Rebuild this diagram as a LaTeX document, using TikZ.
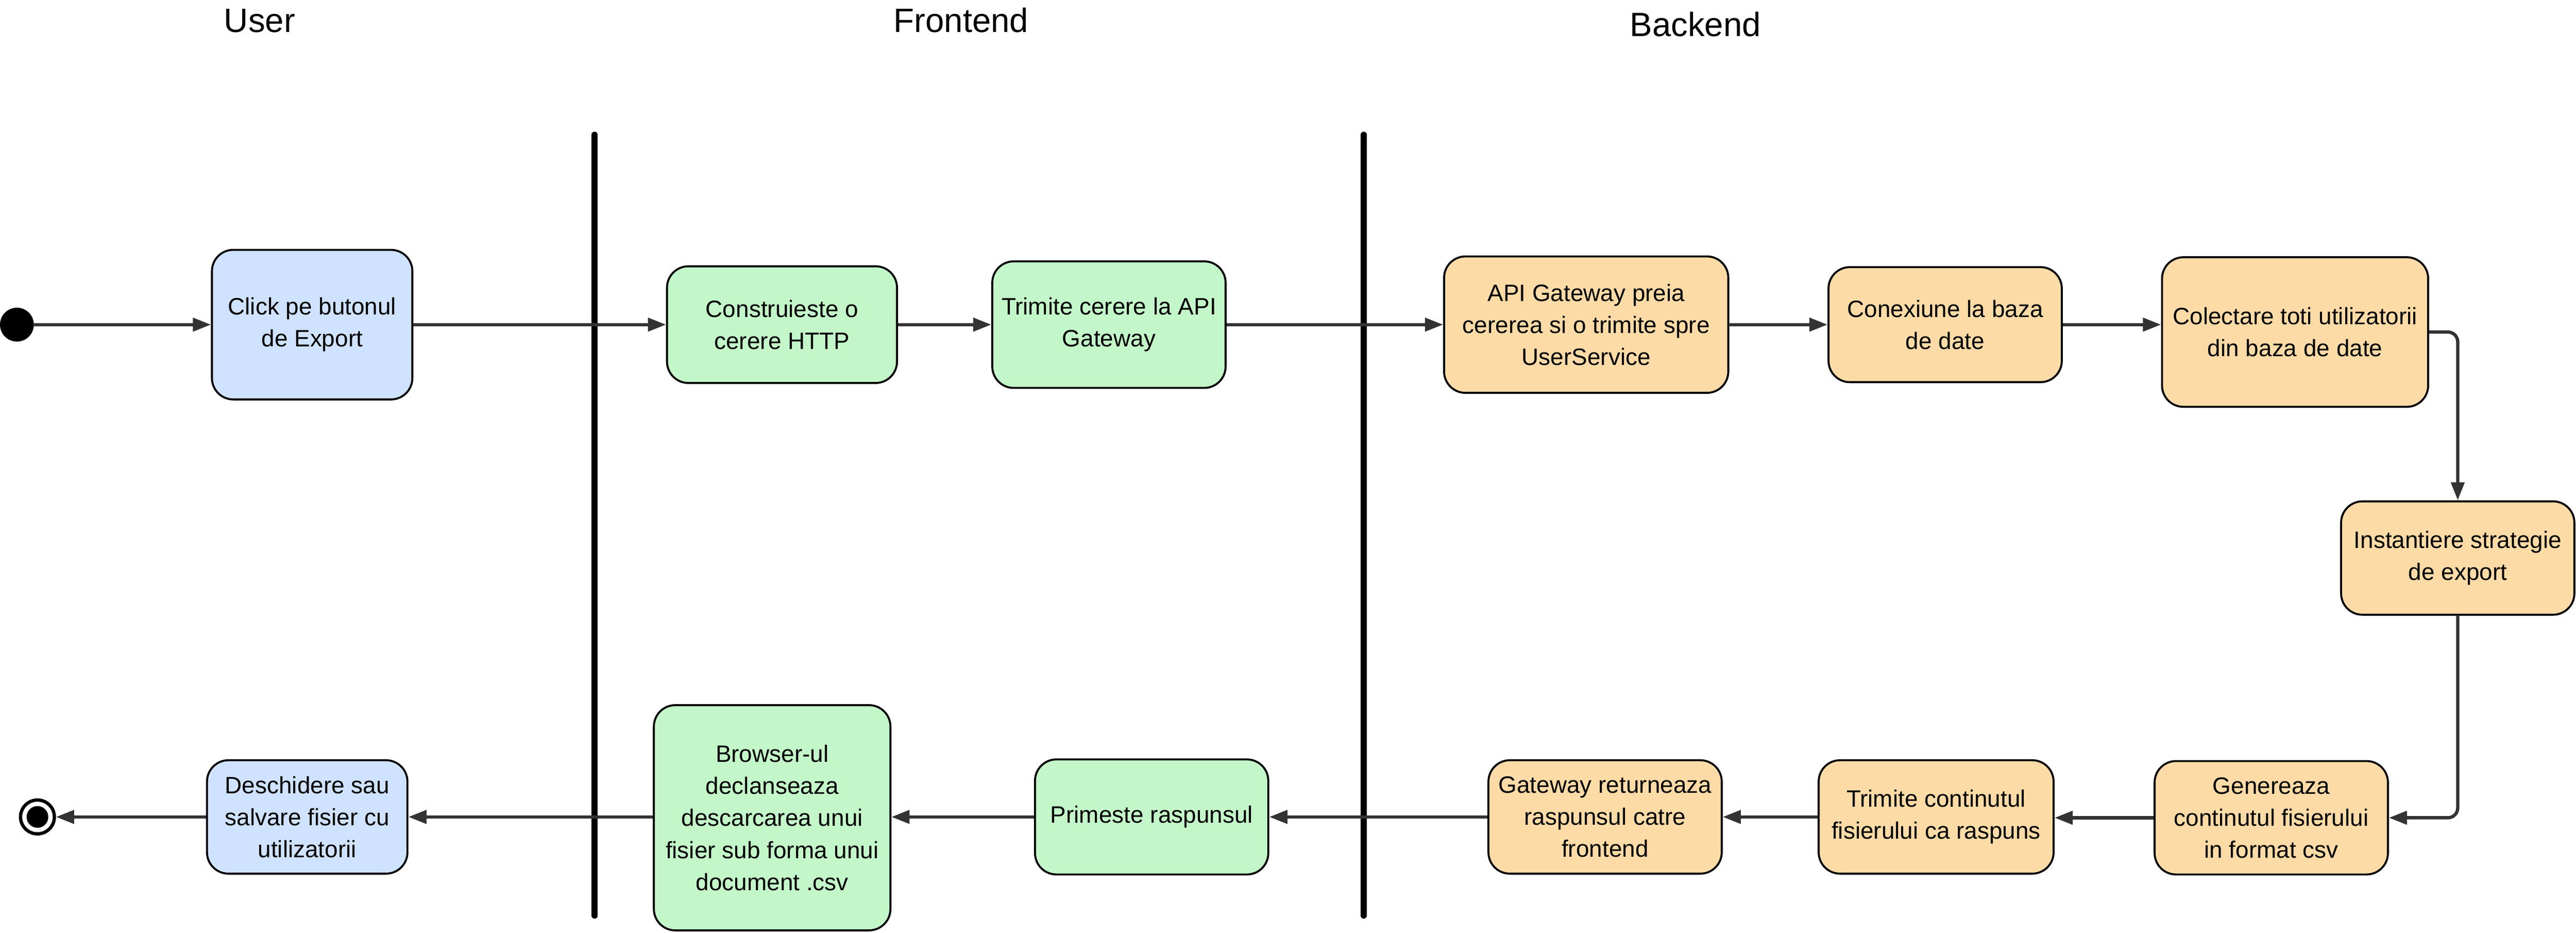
\documentclass[tikz,border=0pt]{standalone}
\usepackage{fontspec}
\setmainfont{Liberation Sans}
\usetikzlibrary{arrows.meta}
\definecolor{bluefill}{RGB}{207,226,255}
\definecolor{greenfill}{RGB}{195,246,200}
\definecolor{orangefill}{RGB}{253,219,166}
\definecolor{conn}{RGB}{51,51,51}
\begin{document}
\begin{tikzpicture}[x=1pt,y=-1pt,
  act/.style={draw=black, line width=1.2pt, rounded corners=13pt, align=center,
    font=\fontsize{14.4pt}{19.5pt}\selectfont, inner sep=0pt},
  ublue/.style={act, fill=bluefill},
  ugreen/.style={act, fill=greenfill},
  uorange/.style={act, fill=orangefill},
  flow/.style={draw=conn, line width=2pt, -{Triangle[length=11pt,width=8pt]}},
  lanebar/.style={draw=black, line width=3.8pt, line cap=round},
  lanetitle/.style={anchor=base, inner sep=0pt, font=\fontsize{20.5pt}{24pt}\selectfont}
]
\useasboundingbox (0,0) rectangle (1568,567.4);

% lane titles
\node[lanetitle] (tuser) at (158,19.5) {User};
\node[lanetitle] (tfront) at (585,19.5) {Frontend};
\node[lanetitle] (tback) at (1032,22.2) {Backend};

% lane separators
\coordinate (b1top) at (362,82);
\coordinate (b1bot) at (362,557);
\coordinate (b2top) at (830,82);
\coordinate (b2bot) at (830,557);
\draw[lanebar] (b1top) -- (b1bot);
\draw[lanebar] (b2top) -- (b2bot);

% start / end
\node[circle, fill=black, minimum size=20.6pt, inner sep=0pt] (start) at (10.3,197.5) {};
\node[circle, draw=black, line width=2pt, fill=white, minimum size=20.6pt, inner sep=0pt] (final) at (22.8,497) {};
\node[circle, fill=black, minimum size=13.2pt, inner sep=0pt] (finalin) at (22.8,497) {};

% activities - top row
\node[ublue, minimum width=122pt, minimum height=91pt] (click) at (190,197.5) {Click pe butonul\\de Export};
\node[ugreen, minimum width=140pt, minimum height=71pt] (constr) at (476,197.5) {Construieste o\\cerere HTTP};
\node[ugreen, minimum width=142pt, minimum height=77pt] (trimite) at (675,197.5) {Trimite cerere la API\\Gateway};
\node[uorange, minimum width=173pt, minimum height=83pt] (apigw) at (965.5,197.5) {API Gateway preia\\cererea si o trimite spre\\UserService};
\node[uorange, minimum width=142pt, minimum height=70pt] (conex) at (1184,197.5) {Conexiune la baza\\de date};
\node[uorange, minimum width=162pt, minimum height=91pt] (colect) at (1397,202) {Colectare toti utilizatorii\\din baza de date};
\node[uorange, minimum width=142pt, minimum height=69pt] (inst) at (1496,339.5) {Instantiere strategie\\de export};

% activities - bottom row
\node[uorange, minimum width=142pt, minimum height=69pt] (gen) at (1382.5,497.5) {Genereaza\\continutul fisierului\\in format csv};
\node[uorange, minimum width=143pt, minimum height=69pt] (trimcont) at (1178.5,497) {Trimite continutul\\fisierului ca raspuns};
\node[uorange, minimum width=142pt, minimum height=69pt] (gwret) at (977,497) {Gateway returneaza\\raspunsul catre\\frontend};
\node[ugreen, minimum width=142pt, minimum height=70pt] (prim) at (701,497) {Primeste raspunsul};
\node[ugreen, minimum width=144pt, minimum height=137pt] (browser) at (470,497.5) {Browser-ul\\declanseaza\\descarcarea unui\\fisier sub forma unui\\document .csv};
\node[ublue, minimum width=122pt, minimum height=69pt] (desch) at (187,497) {Deschidere sau\\salvare fisier cu\\utilizatorii};

% connectors
\draw[flow] (start.east) -- (click.west);
\draw[flow] (click.east) -- (constr.west);
\draw[flow] (constr.east) -- (trimite.west);
\draw[flow] (trimite.east) -- (apigw.west);
\draw[flow] (apigw.east) -- (conex.west);
\draw[flow] (conex.east) -- (conex.east -| colect.west);
\draw[flow, rounded corners=6pt] (colect.east) -| (inst.north);
\draw[flow, rounded corners=6pt] (inst.south) |- (gen.east);
\draw[flow] (gen.west) -- (gen.west -| trimcont.east);
\draw[flow] (trimcont.west) -- (trimcont.west -| gwret.east);
\draw[flow] (gwret.west) -- (gwret.west -| prim.east);
\draw[flow] (prim.west) -- (prim.west -| browser.east);
\draw[flow] (browser.west |- desch.east) -- (desch.east);
\draw[flow] (desch.west) -- (final.east);
\end{tikzpicture}
\end{document}
